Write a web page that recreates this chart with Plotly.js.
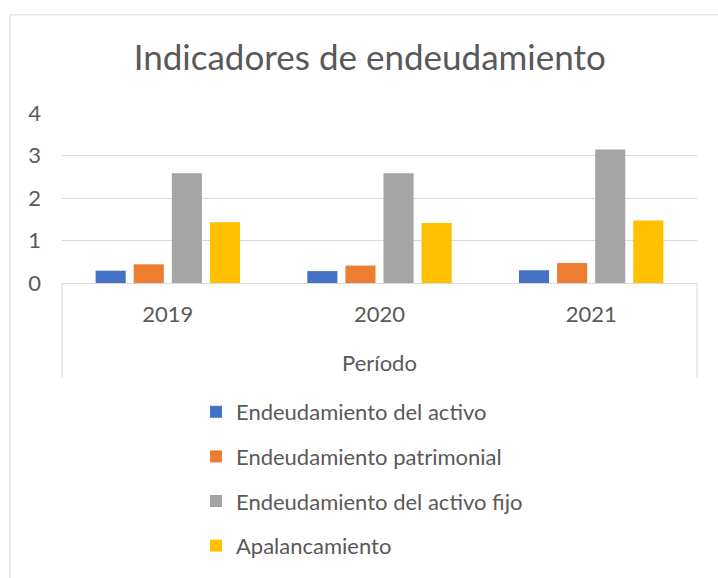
<!DOCTYPE html>
<html>
<head>
<meta charset="utf-8">
<script src="https://cdn.plot.ly/plotly-3.0.1.min.js"></script>
<style>html,body{margin:0;padding:0;background:#fff;}#chart{width:718px;height:578px;}</style>
</head>
<body>
<div id="chart"></div>
<script>
const categories = ["2019", "2020", "2021"];
const seriesNames = ["Endeudamiento del activo", "Endeudamiento patrimonial", "Endeudamiento del activo fijo", "Apalancamiento"];
const activo = [0.29, 0.28, 0.30];
const patrimonial = [0.44, 0.41, 0.47];
const activoFijo = [2.58, 2.58, 3.14];
const apalancamiento = [1.43, 1.41, 1.47];
const colors = ["#4472C4", "#ED7D31", "#A5A5A5", "#FFC000"];

const FONT = "Lato, 'Open Sans', sans-serif";
const TXT = "#595959";
const values = [activo, patrimonial, activoFijo, apalancamiento];

const data = values.map((v, i) => ({
  type: "bar",
  x: categories,
  y: v,
  name: seriesNames[i],
  legendgroup: "g" + i,
  marker: {color: colors[i]},
  hoverinfo: "x+y+name"
}));

const line = {color: "#d9d9d9", width: 1};
const layout = {
  width: 718, height: 578,
  margin: {l: 62, r: 21, t: 113, b: 295, autoexpand: false},
  paper_bgcolor: "#fff", plot_bgcolor: "#fff",
  font: {family: FONT, color: TXT, size: 22},
  title: {text: "Indicadores de endeudamiento", font: {family: FONT, size: 35, color: TXT}, x: 0.515, xanchor: "center", y: 1 - 58/578, yanchor: "middle", yref: "container"},
  barmode: "group",
  bargap: 0.28,
  bargroupgap: 0.21,
  xaxis: {
    type: "category",
    showline: true, linecolor: "#d9d9d9", linewidth: 1,
    showgrid: false, ticks: "", ticklabelstandoff: 12,
    tickfont: {size: 22, color: TXT},
    title: {text: "Período", font: {size: 22, color: TXT}, standoff: 29},
    automargin: false
  },
  yaxis: {
    range: [0, 4], dtick: 1,
    showgrid: true, gridcolor: "#d9d9d9", gridwidth: 1,
    zeroline: false, showline: false, ticks: "",
    ticklabelstandoff: 20,
    tickfont: {size: 22, color: TXT},
    automargin: false
  },
  legend: {
    orientation: "v",
    xref: "container", yref: "container",
    x: 196/718, xanchor: "left",
    y: 1 - 391/578, yanchor: "top",
    font: {size: 22, color: TXT},
    traceorder: "grouped",
    tracegroupgap: 13,
    bgcolor: "rgba(0,0,0,0)"
  },
  shapes: [
    {type: "line", xref: "paper", yref: "paper", x0: 0, x1: 0, y0: 0, y1: -0.557, line: line},
    {type: "line", xref: "paper", yref: "paper", x0: 1, x1: 1, y0: 0, y1: -0.557, line: line},
    {type: "line", xref: "paper", yref: "paper", x0: -0.082, x1: 1.04, y0: 1.577, y1: 1.577, line: line},
    {type: "line", xref: "paper", yref: "paper", x0: -0.082, x1: -0.082, y0: 1.577, y1: -1.75, line: line}
  ]
};

Plotly.newPlot("chart", data, layout, {displayModeBar: false, staticPlot: true});
</script>
</body>
</html>
